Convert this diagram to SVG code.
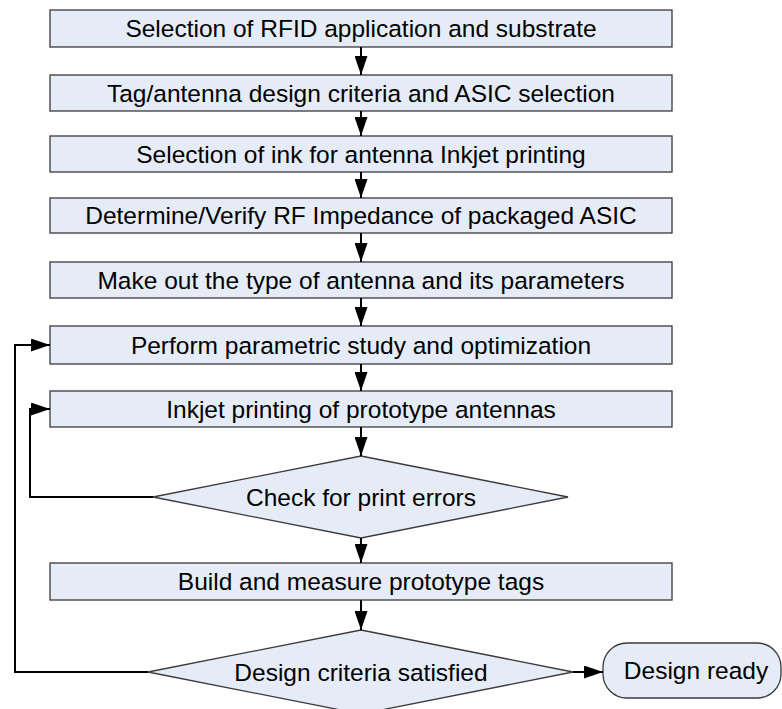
<svg xmlns="http://www.w3.org/2000/svg" width="782" height="709" viewBox="0 0 782 709">
<defs>
<marker id="ah" markerWidth="19" markerHeight="13" refX="19" refY="6.5" orient="auto" markerUnits="userSpaceOnUse">
<path d="M0,0 L19,6.5 L0,13 Z" fill="#000"/>
</marker>
<style>
.n{fill:#E6ECF7;stroke:#3a3a3a;stroke-width:1.3}
.t{font-family:"Liberation Sans",Arial,sans-serif;font-size:24.5px;fill:#000;text-anchor:middle}
.c{fill:none;stroke:#000;stroke-width:2;marker-end:url(#ah)}
</style>
</defs>
<rect width="782" height="709" fill="#fff"/>
<g id="n1"><rect class="n" x="50" y="10" width="622" height="37"/><text class="t" x="361" y="37">Selection of RFID application and substrate</text></g>
<g id="n2"><rect class="n" x="50" y="75" width="622" height="36"/><text class="t" x="361" y="102">Tag/antenna design criteria and ASIC selection</text></g>
<g id="n3"><rect class="n" x="50" y="136" width="622" height="36"/><text class="t" x="361" y="163">Selection of ink for antenna Inkjet printing</text></g>
<g id="n4"><rect class="n" x="50" y="198" width="622" height="35"/><text class="t" x="361" y="224">Determine/Verify RF Impedance of packaged ASIC</text></g>
<g id="n5"><rect class="n" x="50" y="262" width="622" height="36"/><text class="t" x="361" y="289">Make out the type of antenna and its parameters</text></g>
<g id="n6"><rect class="n" x="50" y="326" width="622" height="38"/><text class="t" x="361" y="354">Perform parametric study and optimization</text></g>
<g id="n7"><rect class="n" x="50" y="391" width="622" height="36"/><text class="t" x="361" y="418">Inkjet printing of prototype antennas</text></g>
<g id="n8"><polygon class="n" points="361,456 568,497 361,538 153,497"/><text class="t" x="361" y="506">Check for print errors</text></g>
<g id="n9"><rect class="n" x="50" y="563" width="622" height="37"/><text class="t" x="361" y="590">Build and measure prototype tags</text></g>
<g id="n10"><polygon class="n" points="361,630 573,672 361,714 148,672"/><text class="t" x="361" y="681">Design criteria satisfied</text></g>
<g id="n11"><rect class="n" x="603" y="643" width="178" height="55" rx="24" ry="24"/><text class="t" x="696" y="679">Design ready</text></g>
<g id="connectors">
<line class="c" x1="361" y1="47" x2="361" y2="75"/>
<line class="c" x1="361" y1="111" x2="361" y2="136"/>
<line class="c" x1="361" y1="172" x2="361" y2="198"/>
<line class="c" x1="361" y1="233" x2="361" y2="262"/>
<line class="c" x1="361" y1="298" x2="361" y2="326"/>
<line class="c" x1="361" y1="364" x2="361" y2="391"/>
<line class="c" x1="361" y1="427" x2="361" y2="456"/>
<line class="c" x1="361" y1="538" x2="361" y2="563"/>
<line class="c" x1="361" y1="600" x2="361" y2="630"/>
<line class="c" x1="573" y1="672" x2="603" y2="672"/>
<polyline class="c" points="153,497 30,497 30,409 50,409"/>
<polyline class="c" points="148,672 15,672 15,345 50,345"/>
</g>
</svg>
